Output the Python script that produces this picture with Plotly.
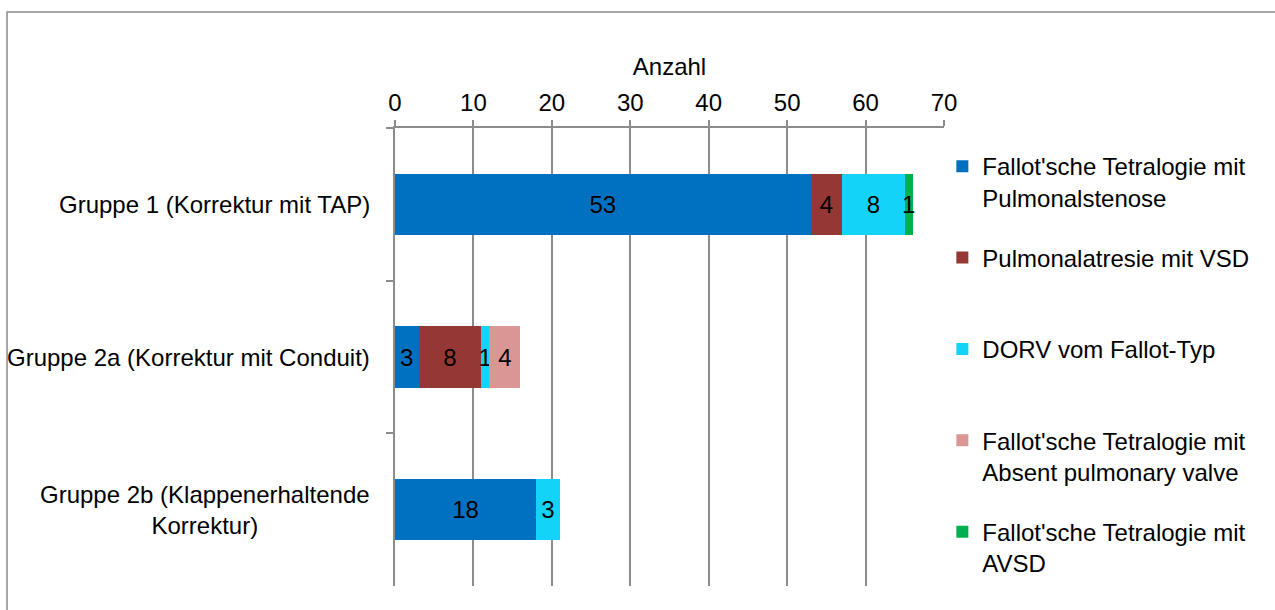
import plotly.graph_objects as go

categories = ["Gruppe 1 (Korrektur mit TAP)",
              "Gruppe 2a (Korrektur mit Conduit)",
              "Gruppe 2b (Klappenerhaltende<br>Korrektur)"]

series_names = ["Fallot'sche Tetralogie mit<br>Pulmonalstenose",
                "Pulmonalatresie mit VSD<br>&nbsp;",
                "DORV vom Fallot-Typ<br>&nbsp;",
                "Fallot'sche Tetralogie mit<br>Absent pulmonary valve",
                "Fallot'sche Tetralogie mit<br>AVSD"]

tof_ps = [53, 3, 18]
pa_vsd = [4, 8, 0]
dorv = [8, 1, 3]
tof_apv = [0, 4, 0]
tof_avsd = [1, 0, 0]

colors = ["#0070C0", "#953735", "#13D4F8", "#D99694", "#00B050"]
series = [tof_ps, pa_vsd, dorv, tof_apv, tof_avsd]

FONT = "Liberation Sans, Arial, sans-serif"
GRID = "#8c8c8c"
FS = 24

fig = go.Figure()
for i, (name, vals, col) in enumerate(zip(series_names, series, colors)):
    fig.add_trace(go.Bar(
        y=categories, x=vals, name=name, orientation="h",
        marker=dict(color=col, line=dict(width=0)),
        text=[str(v) if v else "" for v in vals],
        textposition="inside", insidetextanchor="middle",
        textangle=0, constraintext="none",
        textfont=dict(color="black", size=FS, family=FONT),
        width=0.4, legendgroup=f"g{i}", hoverinfo="x+name",
    ))

annotations = [dict(text=c, x=-0.042, xref="paper", xanchor="right",
                    y=c, yref="y", yanchor="middle", align="center",
                    showarrow=False, font=dict(size=FS, family=FONT, color="black"))
               for c in categories]

shapes = [dict(type="rect", xref="paper", yref="paper",
               x0=-0.7067, x1=1.62, y0=-0.08, y1=1.2533,
               line=dict(color="#8a8a8a", width=1.5), fillcolor="rgba(0,0,0,0)", layer="below")]

fig.update_layout(
    width=1275, height=610,
    margin=dict(l=395, r=331, t=128, b=24, autoexpand=False),
    paper_bgcolor="white", plot_bgcolor="white",
    barmode="stack", bargap=0.6,
    font=dict(family=FONT, size=FS, color="black"),
    showlegend=True,
    legend=dict(x=0.997, xanchor="left", y=0.965, yanchor="top",
                font=dict(size=FS, family=FONT, color="black"),
                valign="top", tracegroupgap=26, traceorder="grouped",
                bgcolor="rgba(0,0,0,0)"),
    xaxis=dict(side="top", range=[0, 70], dtick=10, tick0=0,
               showgrid=True, gridcolor=GRID, gridwidth=1.5,
               showline=True, linecolor=GRID, linewidth=1.5,
               ticks="outside", ticklen=6, tickcolor=GRID, tickwidth=1.5,
               zeroline=False, tickfont=dict(size=FS, family=FONT),
               title=dict(text="Anzahl", font=dict(size=FS, family=FONT), standoff=6)),
    yaxis=dict(autorange="reversed", showticklabels=False,
               showline=True, linecolor=GRID, linewidth=1.5,
               ticks="outside", ticklen=7, tickcolor=GRID, tickwidth=1.5,
               tickson="boundaries", showgrid=False, zeroline=False),
    annotations=annotations,
    shapes=shapes,
)

fig.write_html("out.html")
